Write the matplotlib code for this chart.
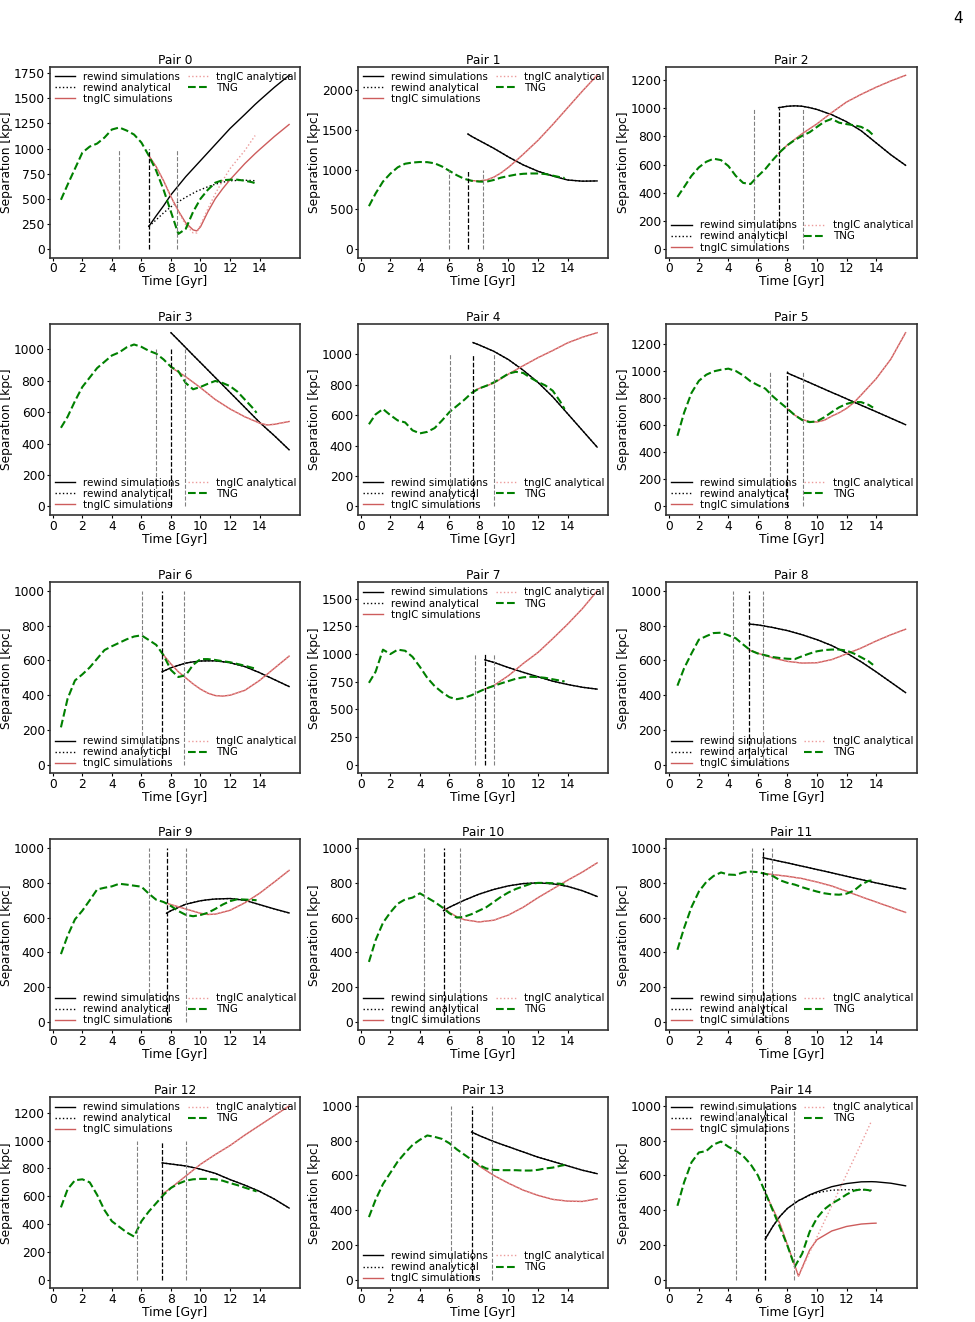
import numpy as np
import matplotlib
matplotlib.use("Agg")
import matplotlib.pyplot as plt
from matplotlib.ticker import MaxNLocator

nan = np.nan

# TNG snapshot times (Gyr), shared by all pairs
TNG_T = [0.55, 1.0, 1.5, 2.0, 2.5, 3.0, 3.5, 4.0, 4.5, 5.0, 5.5, 6.0, 6.5, 7.0,
         7.5, 8.0, 8.5, 9.0, 9.5, 10.0, 10.5, 11.0, 11.5, 12.0, 12.5, 13.0, 13.5, 13.8]

# TNG separation [kpc], one row per pair
TNG_SEP = [
    [490, 640, 800, 960, 1020, 1050, 1110, 1190, 1210, 1180, 1140, 1060, 930, 780, 590, 370, 150, 200, 370, 500, 590, 660, 685, 690, 690, 680, 665, 650],
    [540, 700, 850, 950, 1030, 1075, 1090, 1097, 1095, 1080, 1040, 985, 930, 885, 860, 850, 848, 870, 900, 920, 938, 948, 952, 952, 945, 925, 905, 895],
    [370, 440, 520, 580, 620, 642, 632, 590, 520, 470, 462, 518, 568, 632, 690, 738, 775, 805, 830, 868, 905, 925, 898, 888, 880, 868, 840, 810],
    [500, 570, 670, 760, 820, 880, 920, 960, 980, 1012, 1030, 1015, 990, 972, 935, 888, 860, 785, 745, 760, 780, 798, 785, 765, 730, 680, 630, 595],
    [540, 605, 640, 600, 565, 552, 500, 480, 490, 515, 565, 620, 660, 700, 745, 775, 793, 815, 843, 873, 885, 877, 845, 818, 795, 760, 690, 640],
    [520, 690, 836, 925, 970, 995, 1007, 1015, 998, 965, 922, 893, 868, 812, 765, 720, 672, 636, 621, 627, 657, 695, 730, 755, 770, 768, 748, 728],
    [215, 380, 485, 520, 560, 610, 660, 682, 702, 722, 738, 745, 718, 690, 630, 545, 505, 515, 575, 608, 608, 603, 596, 590, 580, 570, 558, 552],
    [740, 840, 1040, 1000, 1040, 1030, 975, 885, 785, 710, 655, 610, 592, 605, 628, 660, 690, 712, 735, 756, 777, 790, 795, 792, 785, 772, 760, 752],
    [455, 555, 640, 720, 740, 758, 760, 745, 728, 692, 658, 640, 630, 620, 614, 610, 608, 625, 640, 653, 660, 663, 663, 657, 640, 618, 595, 575],
    [390, 495, 590, 640, 700, 762, 772, 780, 795, 790, 784, 778, 738, 703, 690, 667, 638, 616, 608, 615, 628, 650, 675, 695, 706, 704, 702, 700],
    [345, 470, 570, 630, 680, 705, 715, 740, 715, 690, 660, 625, 600, 605, 620, 640, 660, 690, 720, 745, 765, 780, 795, 800, 800, 798, 795, 790],
    [415, 540, 660, 750, 805, 840, 860, 848, 846, 860, 865, 862, 852, 840, 815, 800, 790, 775, 762, 750, 740, 734, 732, 738, 755, 790, 812, 815],
    [520, 650, 715, 722, 700, 610, 500, 420, 380, 340, 310, 420, 490, 550, 610, 660, 690, 712, 722, 725, 725, 722, 712, 695, 680, 662, 645, 635],
    [360, 460, 550, 615, 680, 730, 775, 805, 830, 822, 810, 785, 750, 720, 690, 660, 640, 632, 630, 630, 630, 628, 628, 632, 640, 645, 655, 660],
    [425, 560, 675, 732, 740, 778, 795, 765, 742, 712, 665, 600, 502, 400, 300, 195, 75, 150, 275, 355, 405, 438, 462, 490, 512, 520, 515, 505],
]

# times of the three vertical markers (gray, black, gray)
VLINES = [
    (4.5, 6.5, 8.42), (6.0, 7.25, 8.3), (5.72, 7.4, 9.02),
    (7.0, 8.0, 8.92), (6.05, 7.6, 9.03), (6.84, 8.0, 9.06),
    (6.03, 7.4, 8.85), (7.75, 8.4, 9.03), (4.31, 5.4, 6.37),
    (6.5, 7.7, 9.0), (4.3, 5.6, 6.7), (5.6, 6.35, 6.97),
    (5.7, 7.4, 9.0), (6.1, 7.5, 8.9), (4.5, 6.5, 8.42),
]

# model times per pair
MODEL_T = [
    [6.5, 7, 7.5, 8, 8.5, 9, 9.5, 9.75, 10, 10.5, 11, 11.5, 12, 13, 13.7, 14, 15, 16],
    [7.25, 7.5, 8, 8.5, 9, 9.5, 10, 10.5, 11, 12, 13, 14, 15, 16],
    [7.4, 8, 8.5, 9, 9.5, 10, 11, 12, 13, 14, 15, 16],
    [8, 8.5, 9, 9.5, 10, 11, 12, 13, 14, 14.5, 15, 16],
    [7.6, 8, 9, 10, 11, 12, 13, 14, 15, 16],
    [8, 8.5, 9, 9.5, 10, 10.5, 11, 11.5, 12, 12.5, 13, 14, 15, 16],
    [7.4, 8, 8.5, 9, 9.5, 10, 10.5, 11, 11.5, 12, 13, 14, 15, 16],
    [8.4, 9, 10, 11, 12, 13, 14, 15, 16],
    [5.4, 6, 7, 8, 9, 10, 11, 12, 13, 14, 15, 16],
    [7.7, 8, 9, 10, 10.5, 11, 12, 13, 14, 15, 16],
    [5.6, 6, 6.5, 7, 8, 9, 10, 11, 12, 13, 14, 15, 16],
    [6.35, 7, 8, 9, 10, 11, 12, 13, 14, 15, 16],
    [7.4, 8, 9, 10, 11, 12, 13, 14, 15, 16],
    [7.5, 8, 9, 10, 11, 12, 13, 14, 15, 16],
    [6.5, 7, 7.5, 8, 8.5, 8.75, 9, 9.5, 10, 11, 12, 13, 13.7, 14, 15, 16],
]

# rewind simulations
RW_SIM = [
    [225, 330, 430, 540, 630, 720, 800, 840, 880, 960, 1040, 1120, 1200, 1340, 1440, 1480, 1610, 1730],
    [1450, 1420, 1370, 1320, 1270, 1215, 1160, 1110, 1060, 980, 920, 870, 855, 858],
    [1005, 1015, 1018, 1015, 1005, 992, 955, 905, 840, 755, 670, 595],
    [1105, 1058, 1010, 962, 915, 820, 725, 630, 535, 492, 450, 360],
    [1077, 1062, 1020, 965, 895, 815, 720, 610, 500, 390],
    [983, 959, 936, 912, 888, 864, 840, 817, 793, 769, 745, 698, 650, 602],
    [535, 558, 572, 585, 592, 597, 598, 598, 593, 587, 565, 530, 490, 450],
    [948, 925, 878, 835, 795, 755, 725, 700, 683],
    [810, 805, 790, 772, 748, 720, 686, 643, 592, 535, 475, 415],
    [625, 640, 677, 697, 703, 707, 710, 700, 675, 650, 627],
    [640, 660, 680, 700, 735, 762, 783, 796, 800, 795, 780, 755, 722],
    [945, 933, 915, 896, 877, 858, 838, 819, 800, 782, 765],
    [840, 832, 818, 795, 765, 720, 680, 635, 580, 515],
    [850, 830, 795, 765, 735, 705, 680, 655, 630, 610],
    [234, 305, 365, 410, 440, 455, 465, 488, 505, 535, 553, 563, 564, 563, 555, 540],
]

# tngIC simulations
TC_SIM = [
    [930, 820, 680, 520, 380, 260, 190, 180, 220, 370, 500, 600, 690, 850, 950, 990, 1120, 1240],
    [870, 862, 858, 870, 905, 960, 1030, 1110, 1195, 1370, 1570, 1780, 1990, 2190],
    [680, 740, 780, 820, 855, 890, 970, 1045, 1100, 1150, 1195, 1235],
    [885, 855, 825, 790, 755, 680, 620, 570, 530, 518, 522, 540],
    [755, 775, 810, 870, 925, 978, 1025, 1075, 1112, 1142],
    [720, 672, 640, 625, 622, 635, 665, 690, 722, 765, 822, 940, 1085, 1280],
    [641, 580, 535, 500, 465, 435, 412, 398, 395, 400, 428, 485, 555, 625],
    [684, 715, 805, 915, 1015, 1140, 1270, 1410, 1570],
    [660, 642, 615, 595, 585, 587, 605, 638, 672, 712, 748, 780],
    [683, 675, 650, 625, 618, 620, 642, 685, 740, 805, 872],
    [660, 630, 605, 588, 575, 585, 615, 660, 715, 765, 815, 862, 915],
    [855, 848, 838, 825, 805, 782, 752, 720, 690, 660, 630],
    [614, 660, 745, 830, 900, 965, 1040, 1110, 1180, 1250],
    [690, 655, 600, 555, 515, 485, 462, 452, 450, 465],
    [498, 410, 320, 200, 80, 20, 70, 170, 230, 280, 306, 320, 324, 325, nan, nan],
]

# analytical curves where they differ from the simulations (elsewhere they overlap)
RW_AN = {
    0: [225, 290, 360, 420, 470, 515, 555, 575, 590, 620, 645, 665, 680, 685, 680, nan, nan, nan],
    14: [234, 305, 365, 410, 440, 455, 465, 485, 500, 515, 518, 518, 515, nan, nan, nan],
}
TC_AN = {
    0: [930, 820, 680, 520, 370, 240, 160, 160, 240, 400, 550, 680, 800, 980, 1130, nan, nan, nan],
    14: [498, 410, 320, 200, 80, 20, 65, 155, 245, 425, 605, 785, 915, nan, nan, nan],
}

LEGEND_UP = [0, 1, 7, 12, 14]

plt.rcParams['font.size'] = 8.6
plt.rcParams['xtick.major.size'] = 2
plt.rcParams['ytick.major.size'] = 2

fig = plt.figure(figsize=(9.75, 13.22), dpi=100)
lefts = [0.0508, 0.3667, 0.6831]
bottoms = [0.8051, 0.6104, 0.4150, 0.2205, 0.0255]

for i in range(15):
    ax = fig.add_axes([lefts[i % 3], bottoms[i // 3], 0.2574, 0.1445])
    t = MODEL_T[i]
    rw_an = RW_AN.get(i, RW_SIM[i])
    tc_an = TC_AN.get(i, TC_SIM[i])
    ax.plot(t, RW_SIM[i], color='black', lw=1.0, label='rewind simulations')
    ax.plot(t, rw_an, color='black', lw=1.0, ls=':', label='rewind analytical')
    ax.plot(t, TC_SIM[i], color='indianred', lw=1.0, label='tngIC simulations')
    ax.plot(t, tc_an, color='#ec9a9a', lw=1.0, ls=':', label='tngIC analytical')
    ax.plot(TNG_T, TNG_SEP[i], color='green', lw=1.5, ls='--', label='TNG')

    g1, b, g2 = VLINES[i]
    ax.vlines([g1, g2], 0, 1000, colors='gray', linestyles='--', lw=0.8)
    ax.vlines(b, 0, 1000, colors='black', linestyles='--', lw=0.9)

    ax.set_xticks(range(0, 16, 2))
    ax.yaxis.set_major_locator(MaxNLocator(nbins=8, steps=[1, 2, 2.5, 5, 10]))
    ax.set_title('Pair {}'.format(i), fontsize=8.8, pad=2)
    ax.set_xlabel('Time [Gyr]', labelpad=0, fontsize=8.8)
    ax.set_ylabel('Separation [kpc]', labelpad=0.5, fontsize=8.8)
    for s in ax.spines.values():
        s.set_color('#333333')
        s.set_linewidth(1.2)
    ax.tick_params(pad=1.3, labelsize=8.8)

    loc = 'upper left' if i in LEGEND_UP else 'lower left'
    ax.legend(loc=loc, ncol=2, frameon=False, fontsize=7.4, borderaxespad=0.2,
              handlelength=2.0, columnspacing=0.7, labelspacing=0.1, borderpad=0.3)

fig.text(0.988, 0.992, '4', ha='right', va='top', fontsize=11)

fig.savefig('out.png', dpi=100)
